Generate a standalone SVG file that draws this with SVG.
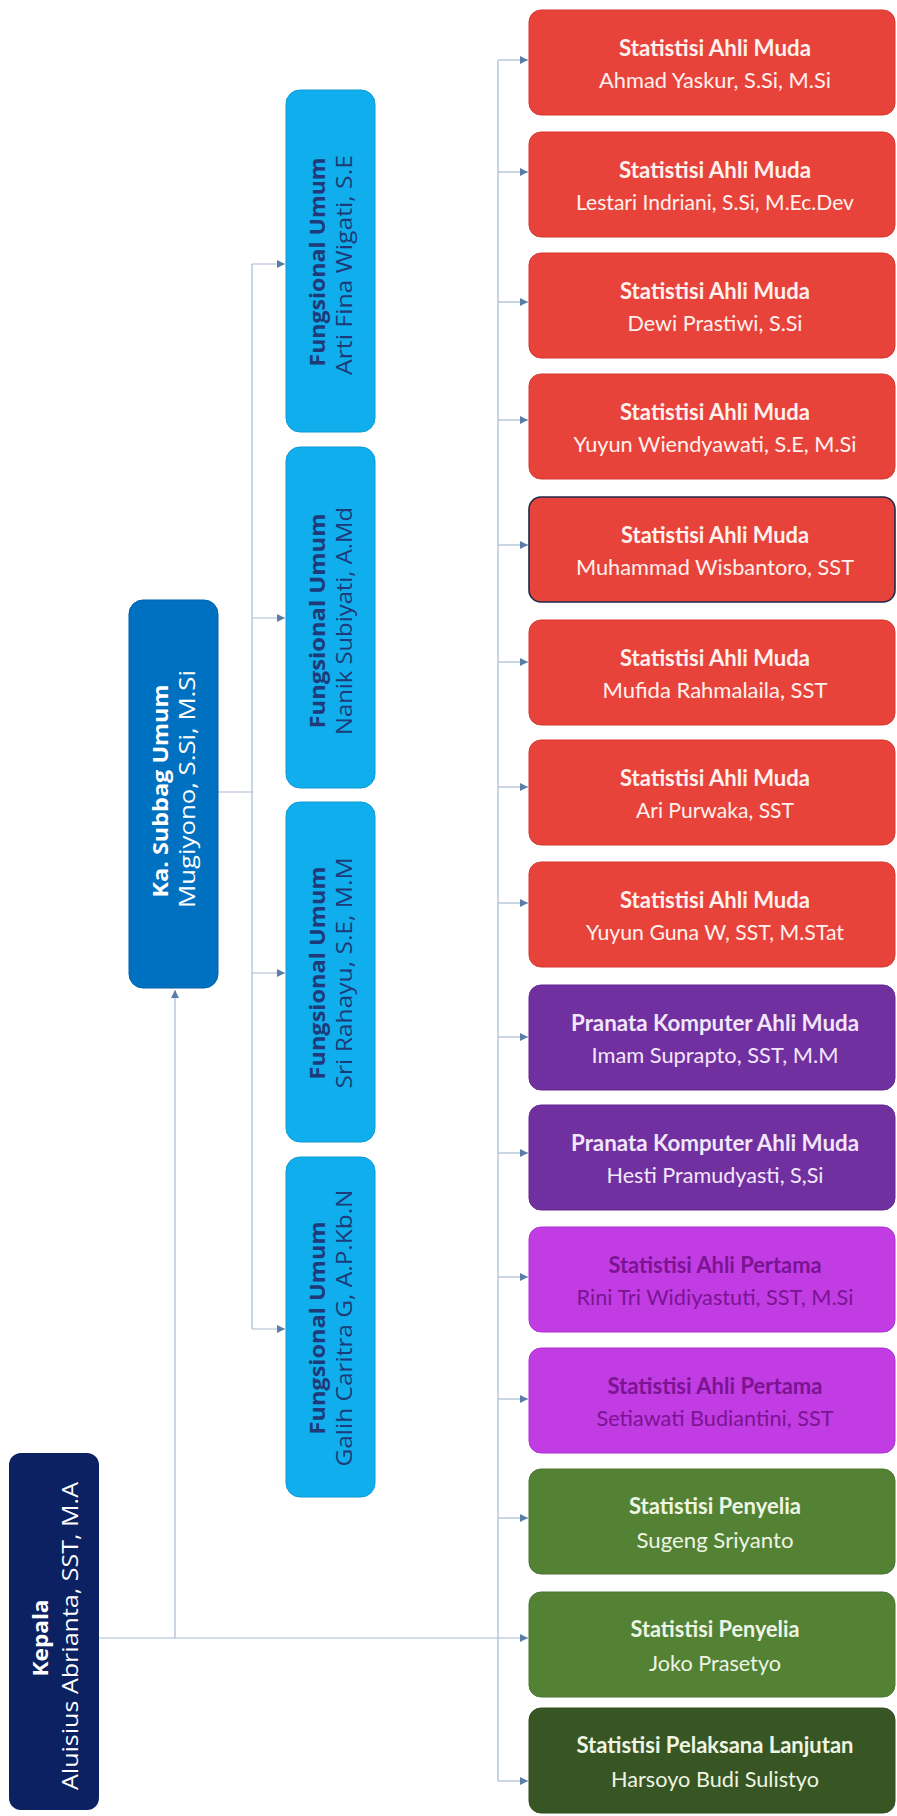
<svg xmlns="http://www.w3.org/2000/svg" width="897" height="1816" viewBox="0 0 897 1816">
<style>
.bg{fill:#ffffff}
.ln{stroke:#A7BAD2;stroke-width:1.2;fill:none}
.rt{font-family:Lato,"Liberation Sans",sans-serif;font-size:22px;text-anchor:middle}
.b{font-weight:bold}
.vt{font-family:"Open Sans","Liberation Sans",sans-serif;font-size:21px;text-anchor:middle}
.red rect{fill:#E8433A;stroke:#D6382F;stroke-width:1}
.red text{fill:#FFF1EE}
.pur rect{fill:#7030A0;stroke:#62288F;stroke-width:1}
.pur text{fill:#F3E6FA}
.mag rect{fill:#C13CE3;stroke:#B030D2;stroke-width:1}
.mag text{fill:#7A1492}
.grn rect{fill:#548235;stroke:#4A762E;stroke-width:1}
.grn text{fill:#EEF5E4}
.dgr rect{fill:#385623;stroke:#304B1E;stroke-width:1}
.dgr text{fill:#EEF5E4}
.fu rect{fill:#10AEEC;stroke:#0E9AD4;stroke-width:1}
.fu text{fill:#1E3A78}
</style>
<defs>
<marker id="arr" viewBox="0 0 8 8" refX="8" refY="4" markerWidth="8" markerHeight="8" markerUnits="userSpaceOnUse" orient="auto">
<path d="M0,0 L8,4 L0,8 z" fill="#5A7DA8"/>
</marker>
</defs>
<rect class="bg" x="0" y="0" width="897" height="1816"/>

<g id="connectors">
<line class="ln" x1="498" y1="60" x2="498" y2="1781"/>
<line class="ln" x1="498" y1="60" x2="528" y2="60" marker-end="url(#arr)"/>
<line class="ln" x1="498" y1="172" x2="528" y2="172" marker-end="url(#arr)"/>
<line class="ln" x1="498" y1="302" x2="528" y2="302" marker-end="url(#arr)"/>
<line class="ln" x1="498" y1="420" x2="528" y2="420" marker-end="url(#arr)"/>
<line class="ln" x1="498" y1="545" x2="528" y2="545" marker-end="url(#arr)"/>
<line class="ln" x1="498" y1="662" x2="528" y2="662" marker-end="url(#arr)"/>
<line class="ln" x1="498" y1="787" x2="528" y2="787" marker-end="url(#arr)"/>
<line class="ln" x1="498" y1="903" x2="528" y2="903" marker-end="url(#arr)"/>
<line class="ln" x1="498" y1="1037" x2="528" y2="1037" marker-end="url(#arr)"/>
<line class="ln" x1="498" y1="1153" x2="528" y2="1153" marker-end="url(#arr)"/>
<line class="ln" x1="498" y1="1277" x2="528" y2="1277" marker-end="url(#arr)"/>
<line class="ln" x1="498" y1="1399" x2="528" y2="1399" marker-end="url(#arr)"/>
<line class="ln" x1="498" y1="1518" x2="528" y2="1518" marker-end="url(#arr)"/>
<line class="ln" x1="99" y1="1638" x2="528" y2="1638" marker-end="url(#arr)"/>
<line class="ln" x1="498" y1="1781" x2="528" y2="1781" marker-end="url(#arr)"/>
<line class="ln" x1="175" y1="1638" x2="175" y2="990" marker-end="url(#arr)"/>
<line class="ln" x1="218" y1="792" x2="252" y2="792"/>
<line class="ln" x1="252" y1="264" x2="252" y2="1329"/>
<line class="ln" x1="252" y1="264" x2="285" y2="264" marker-end="url(#arr)"/>
<line class="ln" x1="252" y1="618" x2="285" y2="618" marker-end="url(#arr)"/>
<line class="ln" x1="252" y1="973" x2="285" y2="973" marker-end="url(#arr)"/>
<line class="ln" x1="252" y1="1329" x2="285" y2="1329" marker-end="url(#arr)"/>
</g>

<g id="kepala">
<rect x="9" y="1453" width="90" height="357" rx="12" fill="#0B2161"/>
<text class="vt b" fill="#ffffff" transform="translate(48,1638) rotate(-90)" textLength="77" lengthAdjust="spacingAndGlyphs">Kepala</text>
<text class="vt" fill="#ffffff" transform="translate(78,1636) rotate(-90)" textLength="308" lengthAdjust="spacingAndGlyphs">Aluisius Abrianta, SST, M.A</text>
</g>

<g id="kasubbag">
<rect x="129" y="600" width="89" height="388" rx="14" fill="#0070C0" stroke="#0062AA" stroke-width="1"/>
<text class="vt b" fill="#ffffff" transform="translate(168,791) rotate(-90)" textLength="213" lengthAdjust="spacingAndGlyphs">Ka. Subbag Umum</text>
<text class="vt" fill="#ffffff" transform="translate(195,789) rotate(-90)" textLength="238" lengthAdjust="spacingAndGlyphs">Mugiyono, S.Si, M.Si</text>
</g>

<g id="fu-arti" class="fu">
<rect x="286" y="90" width="89" height="342" rx="14"/>
<text class="vt b" transform="translate(325,262) rotate(-90)" textLength="209" lengthAdjust="spacingAndGlyphs">Fungsional Umum</text>
<text class="vt" transform="translate(352,265) rotate(-90)" textLength="220" lengthAdjust="spacingAndGlyphs">Arti Fina Wigati, S.E</text>
</g>
<g id="fu-nanik" class="fu">
<rect x="286" y="447" width="89" height="341" rx="14"/>
<text class="vt b" transform="translate(325,621) rotate(-90)" textLength="215" lengthAdjust="spacingAndGlyphs">Fungsional Umum</text>
<text class="vt" transform="translate(352,621) rotate(-90)" textLength="228" lengthAdjust="spacingAndGlyphs">Nanik Subiyati, A.Md</text>
</g>
<g id="fu-sri" class="fu">
<rect x="286" y="802" width="89" height="340" rx="14"/>
<text class="vt b" transform="translate(325,973) rotate(-90)" textLength="213" lengthAdjust="spacingAndGlyphs">Fungsional Umum</text>
<text class="vt" transform="translate(352,973) rotate(-90)" textLength="231" lengthAdjust="spacingAndGlyphs">Sri Rahayu, S.E, M.M</text>
</g>
<g id="fu-galih" class="fu">
<rect x="286" y="1157" width="89" height="340" rx="14"/>
<text class="vt b" transform="translate(325,1328) rotate(-90)" textLength="213" lengthAdjust="spacingAndGlyphs">Fungsional Umum</text>
<text class="vt" transform="translate(352,1328) rotate(-90)" textLength="277" lengthAdjust="spacingAndGlyphs">Galih Caritra G, A.P.Kb.N</text>
</g>

<g id="n1" class="red">
<rect x="529" y="10" width="366" height="105" rx="12"/>
<text class="rt b" x="715" y="56" textLength="192" lengthAdjust="spacingAndGlyphs">Statistisi Ahli Muda</text>
<text class="rt" x="715" y="88" textLength="232" lengthAdjust="spacingAndGlyphs">Ahmad Yaskur, S.Si, M.Si</text>
</g>
<g id="n2" class="red">
<rect x="529" y="132" width="366" height="105" rx="12"/>
<text class="rt b" x="715" y="178" textLength="192" lengthAdjust="spacingAndGlyphs">Statistisi Ahli Muda</text>
<text class="rt" x="715" y="210" textLength="278" lengthAdjust="spacingAndGlyphs">Lestari Indriani, S.Si, M.Ec.Dev</text>
</g>
<g id="n3" class="red">
<rect x="529" y="253" width="366" height="105" rx="12"/>
<text class="rt b" x="715" y="299" textLength="190" lengthAdjust="spacingAndGlyphs">Statistisi Ahli Muda</text>
<text class="rt" x="715" y="331" textLength="175" lengthAdjust="spacingAndGlyphs">Dewi Prastiwi, S.Si</text>
</g>
<g id="n4" class="red">
<rect x="529" y="374" width="366" height="105" rx="12"/>
<text class="rt b" x="715" y="420" textLength="190" lengthAdjust="spacingAndGlyphs">Statistisi Ahli Muda</text>
<text class="rt" x="715" y="452" textLength="283" lengthAdjust="spacingAndGlyphs">Yuyun Wiendyawati, S.E, M.Si</text>
</g>
<g id="n5" class="red">
<rect x="529" y="497" width="366" height="105" rx="12" style="stroke:#1E2748;stroke-width:1.6"/>
<text class="rt b" x="715" y="543" textLength="188" lengthAdjust="spacingAndGlyphs">Statistisi Ahli Muda</text>
<text class="rt" x="715" y="575" textLength="278" lengthAdjust="spacingAndGlyphs">Muhammad Wisbantoro, SST</text>
</g>
<g id="n6" class="red">
<rect x="529" y="620" width="366" height="105" rx="12"/>
<text class="rt b" x="715" y="666" textLength="190" lengthAdjust="spacingAndGlyphs">Statistisi Ahli Muda</text>
<text class="rt" x="715" y="698" textLength="225" lengthAdjust="spacingAndGlyphs">Mufida Rahmalaila, SST</text>
</g>
<g id="n7" class="red">
<rect x="529" y="740" width="366" height="105" rx="12"/>
<text class="rt b" x="715" y="786" textLength="190" lengthAdjust="spacingAndGlyphs">Statistisi Ahli Muda</text>
<text class="rt" x="715" y="818" textLength="158" lengthAdjust="spacingAndGlyphs">Ari Purwaka, SST</text>
</g>
<g id="n8" class="red">
<rect x="529" y="862" width="366" height="105" rx="12"/>
<text class="rt b" x="715" y="908" textLength="190" lengthAdjust="spacingAndGlyphs">Statistisi Ahli Muda</text>
<text class="rt" x="715" y="940" textLength="258" lengthAdjust="spacingAndGlyphs">Yuyun Guna W, SST, M.STat</text>
</g>
<g id="n9" class="pur">
<rect x="529" y="985" width="366" height="105" rx="12"/>
<text class="rt b" x="715" y="1031" textLength="288" lengthAdjust="spacingAndGlyphs">Pranata Komputer Ahli Muda</text>
<text class="rt" x="715" y="1063" textLength="247" lengthAdjust="spacingAndGlyphs">Imam Suprapto, SST, M.M</text>
</g>
<g id="n10" class="pur">
<rect x="529" y="1105" width="366" height="105" rx="12"/>
<text class="rt b" x="715" y="1151" textLength="288" lengthAdjust="spacingAndGlyphs">Pranata Komputer Ahli Muda</text>
<text class="rt" x="715" y="1183" textLength="217" lengthAdjust="spacingAndGlyphs">Hesti Pramudyasti, S,Si</text>
</g>
<g id="n11" class="mag">
<rect x="529" y="1227" width="366" height="105" rx="12"/>
<text class="rt b" x="715" y="1273" textLength="213" lengthAdjust="spacingAndGlyphs">Statistisi Ahli Pertama</text>
<text class="rt" x="715" y="1305" textLength="277" lengthAdjust="spacingAndGlyphs">Rini Tri Widiyastuti, SST, M.Si</text>
</g>
<g id="n12" class="mag">
<rect x="529" y="1348" width="366" height="105" rx="12"/>
<text class="rt b" x="715" y="1394" textLength="215" lengthAdjust="spacingAndGlyphs">Statistisi Ahli Pertama</text>
<text class="rt" x="715" y="1426" textLength="237" lengthAdjust="spacingAndGlyphs">Setiawati Budiantini, SST</text>
</g>
<g id="n13" class="grn">
<rect x="529" y="1469" width="366" height="105" rx="12"/>
<text class="rt b" x="715" y="1514" textLength="172" lengthAdjust="spacingAndGlyphs">Statistisi Penyelia</text>
<text class="rt" x="715" y="1548" textLength="157" lengthAdjust="spacingAndGlyphs">Sugeng Sriyanto</text>
</g>
<g id="n14" class="grn">
<rect x="529" y="1592" width="366" height="105" rx="12"/>
<text class="rt b" x="715" y="1637" textLength="169" lengthAdjust="spacingAndGlyphs">Statistisi Penyelia</text>
<text class="rt" x="715" y="1671" textLength="132" lengthAdjust="spacingAndGlyphs">Joko Prasetyo</text>
</g>
<g id="n15" class="dgr">
<rect x="529" y="1708" width="366" height="105" rx="12"/>
<text class="rt b" x="715" y="1753" textLength="277" lengthAdjust="spacingAndGlyphs">Statistisi Pelaksana Lanjutan</text>
<text class="rt" x="715" y="1787" textLength="208" lengthAdjust="spacingAndGlyphs">Harsoyo Budi Sulistyo</text>
</g>
</svg>
